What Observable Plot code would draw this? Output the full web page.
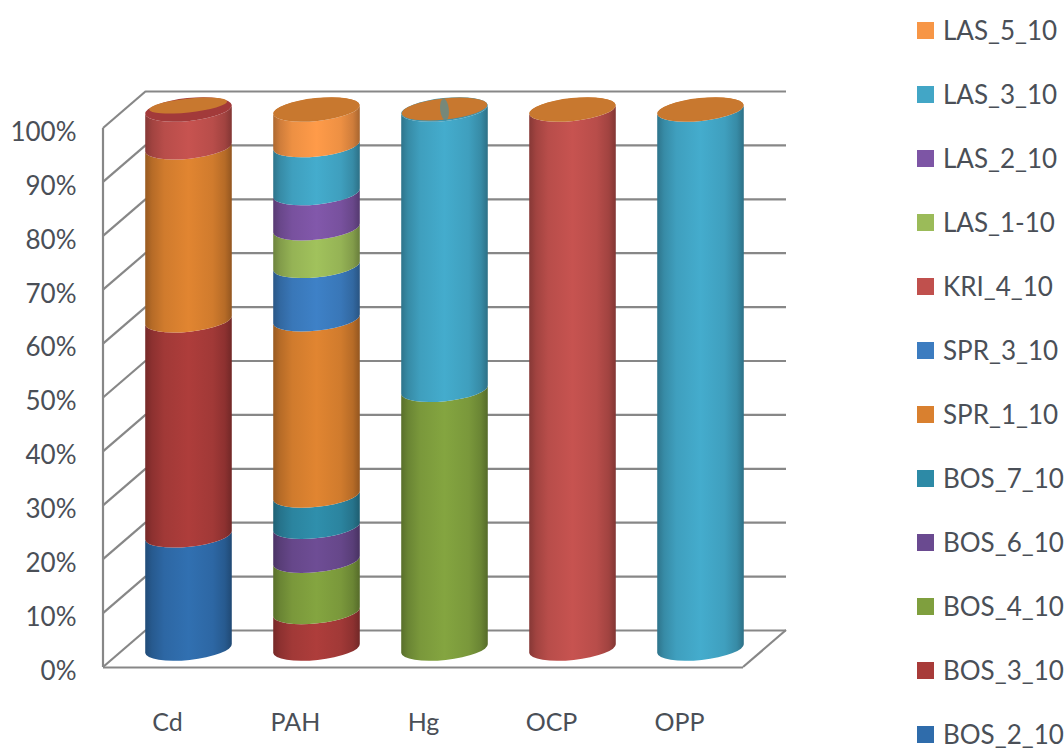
<!DOCTYPE html>
<html>
<head>
<meta charset="utf-8">
<script src="https://cdn.jsdelivr.net/npm/d3@7"></script>
<script src="https://cdn.jsdelivr.net/npm/@observablehq/plot@0.6"></script>
<style>
  html, body { margin: 0; padding: 0; background: #fff; overflow: hidden; }
  #page { display: flex; width: 1064px; height: 749px; overflow: hidden; font-family: Lato, sans-serif; color: #4a4f57; }
  #legend { margin-left: 17px; margin-top: -2px; }
  .row { height: 64px; display: flex; align-items: center; font-size: 26px; white-space: nowrap; }
  .swatch { width: 17px; height: 17px; margin-right: 9px; flex: none; }
</style>
</head>
<body>
<div id="page">
  <div id="plot"></div>
  <div id="legend"></div>
</div>
<script>
// Sampling sites and the share (%) each sample contributes to them
const sites = ["Cd", "PAH", "Hg", "OCP", "OPP"];
const samples = ["BOS_2_10", "BOS_3_10", "BOS_4_10", "BOS_6_10", "BOS_7_10", "SPR_1_10",
                 "SPR_3_10", "KRI_4_10", "LAS_1-10", "LAS_2_10", "LAS_3_10", "LAS_5_10"];
const sampleColors = ["#2f6cab", "#a83b39", "#7f9f3e", "#6a4a90", "#2d8aa6", "#d9802f",
                      "#3c7cc0", "#c0504d", "#9bbb59", "#7d55a5", "#42a6c6", "#f79646"];
const cdShares  = [21, 39.9, 0, 0, 0, 32.1, 0, 7, 0, 0, 0, 0];
const pahShares = [0, 6.8, 9.5, 6.3, 5.8, 32.7, 9.9, 0, 7, 6.5, 8.9, 6.6];
const hgShares  = [0, 0, 48, 0, 0, 0, 0, 0, 0, 0, 52, 0];
const ocpShares = [0, 0, 0, 0, 0, 0, 0, 100, 0, 0, 0, 0];
const oppShares = [0, 0, 0, 0, 0, 0, 0, 0, 0, 0, 100, 0];
const yTicks = [0, 10, 20, 30, 40, 50, 60, 70, 80, 90, 100];

const capColor = "#c8782f";
const capRims = ["#a23a3a", "#c8782f", "#3f93ad", "#c8782f", "#c8782f"];

const shareTable = [cdShares, pahShares, hgShares, ocpShares, oppShares];
const rows = sites.flatMap((site, i) =>
  samples.map((sample, j) => ({site, sample, share: shareTable[i][j]})).filter((d) => d.share > 0));

// Depth of the box the columns stand in, in pixels
const depthX = 43, depthY = -37, wallColor = "#878787", wallWidth = 2.2;
const tilt = -6;

// Left wall slats, the left edge and the floor's right edge
function walls(index, {y}, values, {marginLeft, width, marginRight}) {
  const g = d3.create("svg:g").attr("stroke", wallColor).attr("stroke-width", wallWidth).attr("fill", "none");
  for (const t of yTicks) {
    g.append("line").attr("x1", marginLeft).attr("y1", y(t))
      .attr("x2", marginLeft + depthX).attr("y2", y(t) + depthY);
  }
  g.append("line").attr("x1", marginLeft).attr("y1", y(0)).attr("x2", marginLeft).attr("y2", y(100));
  const right = width - marginRight;
  g.append("line").attr("x1", right).attr("y1", y(0)).attr("x2", right + depthX).attr("y2", y(0) + depthY);
  return g.node();
}

// Turns each stacked bar segment into a slice of a tilted cylinder
function cylinders(index, scales, values) {
  const g = d3.create("svg:g");
  const defs = g.append("defs");
  const bw = typeof scales.x.bandwidth === "function" ? scales.x.bandwidth() : scales.x.bandwidth;
  const a = bw * 0.34, b = 11.5;
  const rad = (tilt * Math.PI) / 180;
  const ax = a * Math.cos(rad), ay = a * Math.sin(rad);
  const gradientIds = new Map();
  const gradientFor = (color) => {
    if (!gradientIds.has(color)) {
      const id = `body-${gradientIds.size}`;
      gradientIds.set(color, id);
      const base = d3.color(color);
      const grad = defs.append("linearGradient").attr("id", id);
      [[0, 1], [0.08, 0.5], [0.22, 0.12], [0.5, -0.1], [0.78, 0.12], [0.92, 0.5], [1, 1.1]].forEach(([o, k]) =>
        grad.append("stop").attr("offset", o).attr("stop-color", k >= 0 ? base.darker(k) : base.brighter(-k)));
    }
    return `url(#${gradientIds.get(color)})`;
  };
  const tops = new Map();
  for (const i of index) {
    const cx = values.x[i] + bw / 2 + depthX / 2;
    const yb = values.y1[i] + depthY / 2, yt = values.y2[i] + depthY / 2;
    const arc = (from, sweep, yc) => `A${a},${b} ${tilt} 0 ${sweep} ${cx + from * ax},${yc + from * ay}`;
    g.append("path")
      .attr("d", `M${cx - ax},${yb - ay}${arc(1, 0, yb)}L${cx + ax},${yt + ay}${arc(-1, 1, yt)}Z`)
      .attr("fill", gradientFor(values.fill[i]));
    if (!tops.has(cx) || yt < tops.get(cx)) tops.set(cx, yt);
  }
  // End caps on top of every column
  [...tops].forEach(([cx, yt], k) => {
    const cap = g.append("g").attr("transform", `rotate(${tilt} ${cx} ${yt})`);
    cap.append("ellipse").attr("cx", cx).attr("cy", yt).attr("rx", a).attr("ry", b).attr("fill", capRims[k]);
    const inner = k === 0 ? [0.9, 0.6, -4] : [0.99, 0.92, -0.5];
    cap.append("ellipse").attr("cx", cx).attr("cy", yt + inner[2]).attr("rx", a * inner[0]).attr("ry", b * inner[1])
      .attr("fill", capColor);
    // The mercury column's cap shows a streak of the body colour through it
    if (k === 2) {
      cap.append("ellipse").attr("cx", cx).attr("cy", yt).attr("rx", a * 0.1).attr("ry", b * 0.95)
        .attr("fill", capRims[k]).attr("fill-opacity", 0.6);
    }
  });
  return g.node();
}

const chart = Plot.plot({
  width: 900,
  height: 749,
  marginLeft: 103,
  marginRight: 157,
  marginTop: 128,
  marginBottom: 82,
  style: {fontFamily: "Lato, sans-serif", background: "transparent", color: "#4a4f57", overflow: "visible"},
  x: {domain: sites, padding: 0, axis: null},
  y: {domain: [0, 100], axis: null},
  color: {domain: samples, range: sampleColors},
  marks: [
    Plot.ruleY(yTicks, {stroke: wallColor, strokeWidth: wallWidth, dx: depthX, dy: depthY}),
    walls,
    Plot.ruleY([0], {stroke: wallColor, strokeWidth: wallWidth}),
    Plot.barY(rows, {x: "site", y: "share", fill: "sample", order: samples, render: cylinders}),
    Plot.axisY({ticks: yTicks, tickSize: 0, tickPadding: 27, tickFormat: (d) => `${d}%`, label: null, fontSize: 26, dy: 4}),
    Plot.axisX({tickSize: 0, tickPadding: 46, label: null, fontSize: 25})
  ]
});
document.getElementById("plot").append(chart);

// Sample key, latest sample first
const legend = d3.select("#legend");
[...samples].reverse().forEach((sample) => {
  const row = legend.append("div").attr("class", "row");
  row.append("span").attr("class", "swatch").style("background", sampleColors[samples.indexOf(sample)]);
  row.append("span").text(sample);
});
</script>
</body>
</html>
